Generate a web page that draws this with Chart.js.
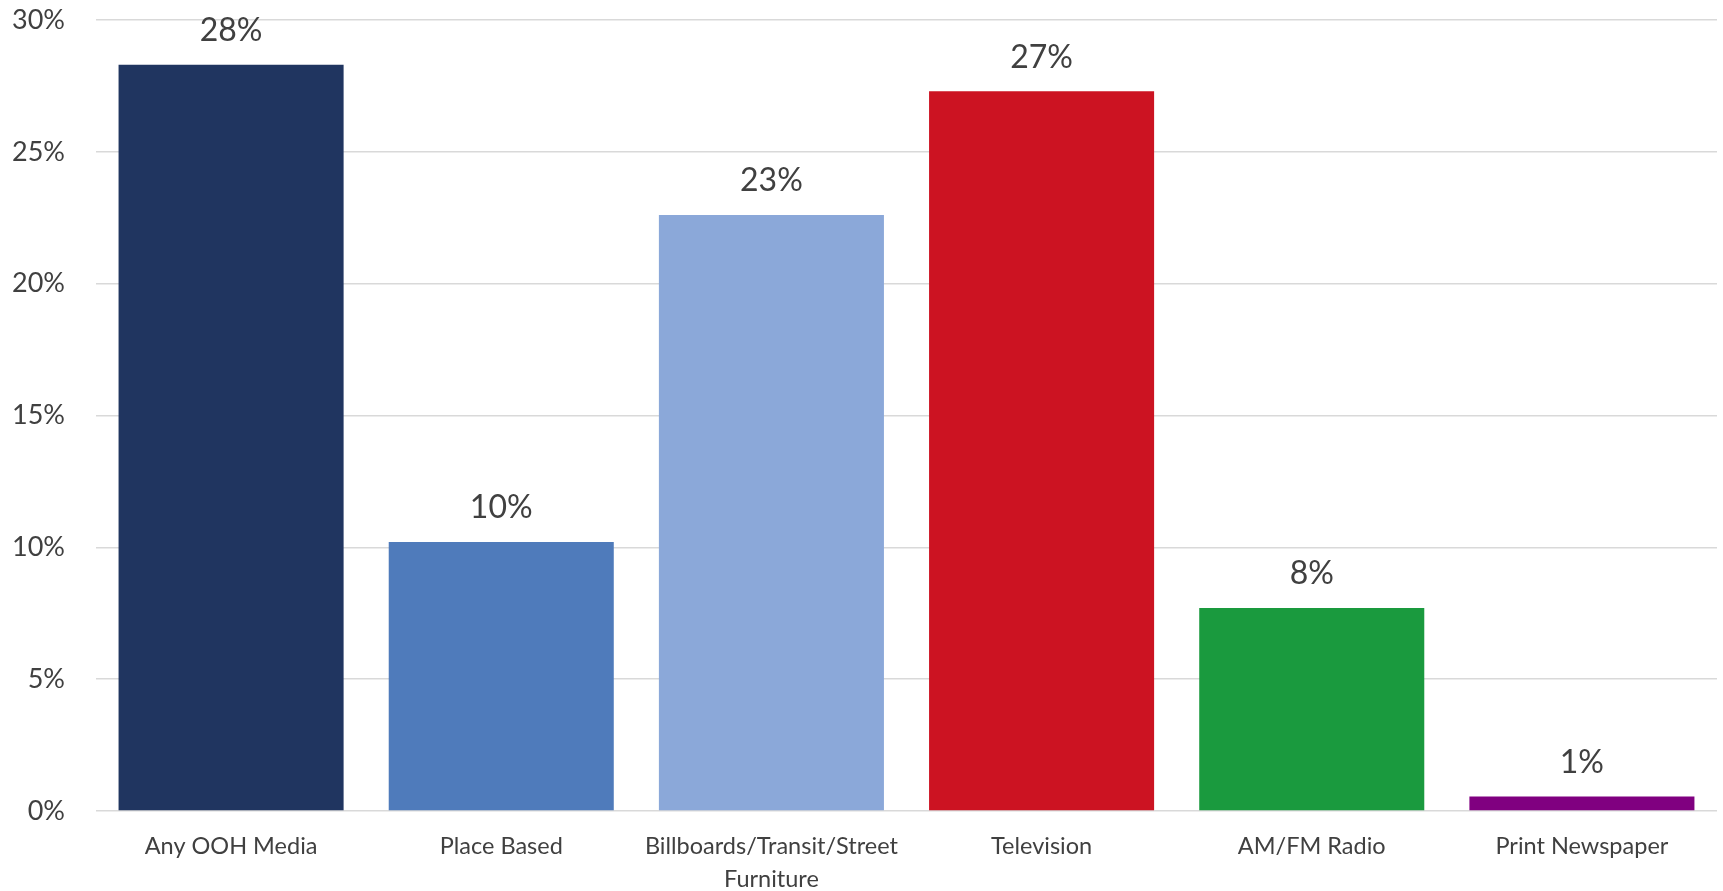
<!DOCTYPE html>
<html>
<head>
<meta charset="utf-8">
<script src="https://cdn.jsdelivr.net/npm/chart.js@4/dist/chart.umd.min.js"></script>
<style>
  html, body { margin: 0; padding: 0; background: #fff; }
  #wrap { width: 1723px; height: 891px; }
</style>
</head>
<body>
<div id="wrap"><canvas id="canvas"></canvas></div>
<script>
// categories and values (percent)
myLabels = ['Any OOH Media', 'Place Based', ['Billboards/Transit/Street', 'Furniture'], 'Television', 'AM/FM Radio', 'Print Newspaper']
myArr = [28.3, 10.2, 22.6, 27.3, 7.7, 0.55]
myColors = ['#203560', '#4F7BBB', '#8BA8D9', '#CC1322', '#1A9A3E', '#800080']
yTicks = [0, 5, 10, 15, 20, 25, 30]

// value labels above the bars
const barLabels = {
    id: 'barLabels',
    afterDatasetsDraw(chart) {
        const ctx = chart.ctx;
        const meta = chart.getDatasetMeta(0);
        ctx.save();
        ctx.font = '32px Lato';
        ctx.fillStyle = '#404040';
        ctx.textAlign = 'center';
        ctx.textBaseline = 'middle';
        meta.data.forEach(function (bar, i) {
            ctx.fillText(Math.round(myArr[i]) + '%', bar.x, bar.y - 34);
        });
        ctx.restore();
    }
};

const ctx = document.getElementById('canvas').getContext('2d');
const myChart = new Chart(ctx, {
    type: 'bar',
    data: {
        labels: myLabels,
        datasets: [{
            data: myArr,
            backgroundColor: myColors,
            borderWidth: 0,
            categoryPercentage: 1,
            barPercentage: 0.833
        }]
    },
    plugins: [barLabels],
    options: {
        responsive: true,
        maintainAspectRatio: false,
        animation: false,
        devicePixelRatio: 1,
        layout: {
            padding: { top: 20, right: 6, left: 0, bottom: 0 }
        },
        plugins: {
            legend: { display: false },
            tooltip: { enabled: false }
        },
        scales: {
            x: {
                grid: { display: false },
                border: { display: false },
                ticks: {
                    color: '#404040',
                    font: { family: 'Lato', size: 23.5, lineHeight: 1.4 },
                    padding: 11,
                    maxRotation: 0,
                    autoSkip: false
                },
                afterFit: function (scale) {
                    scale.height = 80;
                    scale.paddingLeft = 0;
                    scale.paddingRight = 0;
                }
            },
            y: {
                min: 0,
                max: 30,
                afterBuildTicks: function (scale) {
                    scale.ticks = yTicks.map(function (v) { return { value: v }; });
                },
                grid: { color: '#d9d9d9', lineWidth: 1.5, drawTicks: false },
                border: { display: false },
                ticks: {
                    color: '#404040',
                    font: { family: 'Lato', size: 27 },
                    padding: 31,
                    callback: function (value) { return value + '%'; }
                },
                afterFit: function (scale) {
                    scale.width = 96;
                    scale.paddingTop = 0;
                    scale.paddingBottom = 0;
                }
            }
        }
    }
});
</script>
</body>
</html>
